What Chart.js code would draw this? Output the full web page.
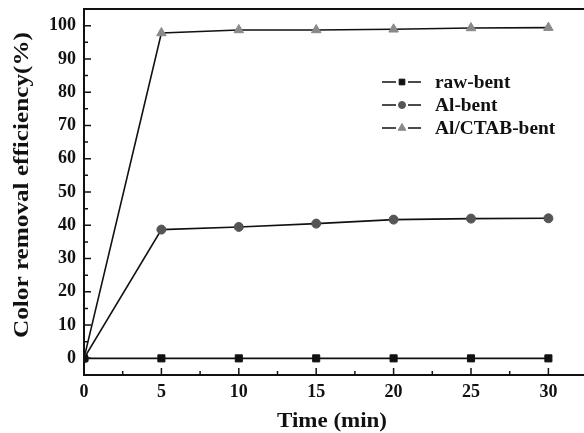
<!DOCTYPE html>
<html>
<head>
<meta charset="utf-8">
<script src="https://cdn.jsdelivr.net/npm/chart.js@4/dist/chart.umd.min.js"></script>
<style>
  html, body { margin: 0; padding: 0; background: #fff; }
  #wrap { width: 584px; height: 433px; }
</style>
</head>
<body>
<div id="wrap"><canvas id="c" width="584" height="433"></canvas></div>
<script>
// Data
var times = [0, 5, 10, 15, 20, 25, 30];
var rawBent = [0, 0, 0, 0, 0, 0, 0];
var alBent = [0, 38.7, 39.5, 40.5, 41.7, 42.0, 42.1];
var alCtabBent = [0, 97.8, 98.7, 98.7, 98.9, 99.3, 99.4];
var seriesNames = ['raw-bent', 'Al-bent', 'Al/CTAB-bent'];
var xTicks = [0, 5, 10, 15, 20, 25, 30];
var yTicks = [0, 10, 20, 30, 40, 50, 60, 70, 80, 90, 100];
var xTitle = 'Time (min)';
var yTitle = 'Color removal efficiency(%)';

var FONT = '"Liberation Serif", "Times New Roman", serif';

function toPoints(vals) {
    var pts = [];
    for (var i = 0; i < times.length; i++) {
        pts.push({ x: times[i], y: vals[i] });
    }
    return pts;
}

// draw text stretched to a given width
function stretchText(ctx, text, x, y, width) {
    var w = ctx.measureText(text).width;
    ctx.save();
    ctx.translate(x, y);
    ctx.scale(width / w, 1);
    ctx.fillText(text, 0, 0);
    ctx.restore();
}

// Box, inward ticks, titles and legend
var framePlugin = {
    id: 'frame',
    afterDraw: function(chart) {
        var ctx = chart.ctx;
        var area = chart.chartArea;
        var xs = chart.scales.x, ys = chart.scales.y;
        ctx.save();
        ctx.strokeStyle = '#111';
        ctx.lineWidth = 2;
        ctx.strokeRect(area.left, area.top, area.right - area.left + 2, area.bottom - area.top);

        ctx.lineWidth = 1.5;
        ctx.beginPath();
        // x ticks (major every 5, minor every 2.5)
        for (var t = 0; t <= 32.5; t += 2.5) {
            var px = xs.getPixelForValue(t);
            var len = (t % 5 === 0) ? 7 : 4;
            ctx.moveTo(px, area.bottom);
            ctx.lineTo(px, area.bottom - len);
        }
        // y ticks (major every 10, minor every 5)
        for (var v = 0; v <= 100; v += 5) {
            var py = ys.getPixelForValue(v);
            var l2 = (v % 10 === 0) ? 7 : 4;
            ctx.moveTo(area.left, py);
            ctx.lineTo(area.left + l2, py);
        }
        ctx.stroke();

        // axis titles
        ctx.fillStyle = '#111';
        ctx.textAlign = 'center';
        ctx.textBaseline = 'middle';
        ctx.font = 'bold 21px ' + FONT;
        stretchText(ctx, xTitle, 332, 422, 110);
        ctx.save();
        ctx.translate(23, 185);
        ctx.rotate(-Math.PI / 2);
        ctx.font = 'bold 21px ' + FONT;
        stretchText(ctx, yTitle, 0, 0, 306);
        ctx.restore();

        // legend
        var rowsY = [82, 105, 128];
        ctx.font = 'bold 19px ' + FONT;
        ctx.textBaseline = 'middle';
        ctx.textAlign = 'left';
        for (var i = 0; i < chart.data.datasets.length; i++) {
            var ds = chart.data.datasets[i];
            var y = rowsY[i];
            ctx.strokeStyle = '#111';
            ctx.lineWidth = 1.6;
            ctx.beginPath();
            ctx.moveTo(382, y);
            ctx.lineTo(396, y);
            ctx.moveTo(408, y);
            ctx.lineTo(421, y);
            ctx.stroke();
            ctx.fillStyle = ds.pointBackgroundColor;
            ctx.strokeStyle = ds.pointBorderColor;
            ctx.lineWidth = 1;
            Chart.helpers.drawPoint(ctx, {
                pointStyle: ds.pointStyle,
                radius: ds.pointRadius - 1,
                borderWidth: 1
            }, 402, y);
            ctx.fillStyle = '#111';
            stretchText(ctx, ds.label, 435, y + 1, ctx.measureText(ds.label).width * 1.02);
        }
        ctx.restore();
    }
};

var makeDataset = function(label, vals, style, color, radius) {
    return {
        label: label,
        data: toPoints(vals),
        borderColor: '#111',
        borderWidth: 1.6,
        pointStyle: style,
        pointRadius: radius,
        pointBackgroundColor: color,
        pointBorderColor: color,
        pointBorderWidth: 1,
        tension: 0
    };
};

new Chart(document.getElementById('c'), {
    type: 'line',
    data: {
        datasets: [
            makeDataset(seriesNames[0], rawBent, 'rect', '#111', 5),
            makeDataset(seriesNames[1], alBent, 'circle', '#555', 4.5),
            makeDataset(seriesNames[2], alCtabBent, 'triangle', '#8a8a8a', 5.5)
        ]
    },
    options: {
        responsive: false,
        animation: false,
        layout: { autoPadding: false, padding: { top: 9, right: 0, left: 0, bottom: 0 } },
        plugins: { legend: { display: false }, tooltip: { enabled: false } },
        scales: {
            x: {
                type: 'linear',
                min: 0,
                max: 32.3,
                afterBuildTicks: function(scale) {
                    scale.ticks = xTicks.map(function(v) { return { value: v }; });
                },
                afterFit: function(scale) {
                    scale.height = 58;
                    scale.paddingLeft = 0;
                    scale.paddingRight = 0;
                },
                grid: { display: false, drawTicks: false },
                border: { display: false },
                ticks: {
                    padding: 7,
                    color: '#111',
                    font: { family: FONT, size: 18, weight: 'bold' },
                    maxRotation: 0
                }
            },
            y: {
                type: 'linear',
                min: -5,
                max: 105,
                afterBuildTicks: function(scale) {
                    scale.ticks = yTicks.map(function(v) { return { value: v }; });
                },
                afterFit: function(scale) {
                    scale.width = 84;
                    scale.paddingTop = 0;
                    scale.paddingBottom = 0;
                },
                grid: { display: false, drawTicks: false },
                border: { display: false },
                ticks: {
                    padding: 8,
                    color: '#111',
                    font: { family: FONT, size: 18, weight: 'bold' }
                }
            }
        }
    },
    plugins: [framePlugin]
});
</script>
</body>
</html>
